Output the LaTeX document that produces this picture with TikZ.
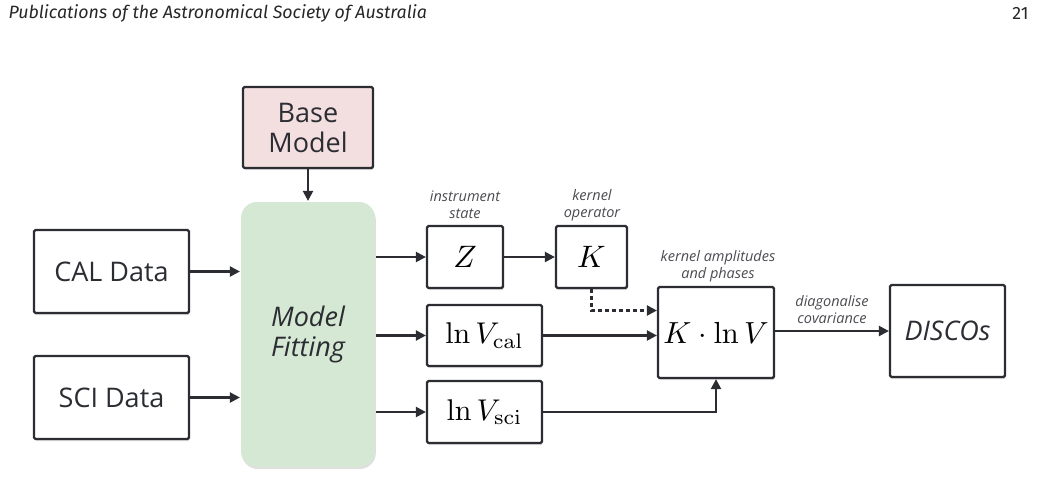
\documentclass[tikz,border=0pt]{standalone}
\usepackage{graphicx}
\usepackage[no-math]{fontspec}
\setmainfont{Open Sans}
\newfontfamily\headfont{Fira Sans}
\usetikzlibrary{arrows.meta,shadows}
\definecolor{edge}{HTML}{2B2D33}
\definecolor{pinkfill}{HTML}{F4DFE0}
\definecolor{greenfill}{HTML}{D5E8D4}
\newcommand{\bigmath}[2]{\scalebox{#1}{\fontsize{10}{12}\selectfont$#2$}}
\tikzset{
  box/.style={draw=edge, line width=2.2pt, fill=white, rounded corners=1.5pt, inner sep=0pt,
    drop shadow={opacity=0.25, shadow xshift=0.8pt, shadow yshift=-2pt}},
  conn/.style={draw=edge, line width=2.2pt, -{Triangle[length=10pt,width=10pt]}},
  big/.style={font=\fontsize{27}{30}\selectfont, align=center},
  bigi/.style={font=\fontsize{27}{30}\selectfont\itshape, align=center},
  lab/.style={font=\fontsize{14.5}{17}\selectfont\itshape, align=center, text=edge!85},
}
\begin{document}
\begin{tikzpicture}[x=1pt,y=-1pt]
\useasboundingbox (0,0) rectangle (1038,485);
% header
\node[anchor=west, font=\headfont\fontsize{17.8}{20}\selectfont\itshape, text=black!85] (hdr) at (5,13) {Publications of the Astronomical Society of Australia};
\node[anchor=east, font=\headfont\fontsize{17.8}{20}\selectfont, text=black!85] (pg) at (1032,13) {21};
% boxes
\node[box, fill=pinkfill, minimum width=130pt, minimum height=81pt, big, text=edge] (base) at (308,127.5) {Base\\Model};
\node[box, fill=greenfill, draw=none, rounded corners=16pt, minimum width=134pt, minimum height=265pt, bigi, text=edge] (fit) at (308,334.5) {Model\\Fitting};
\node[box, minimum width=155pt, minimum height=83pt, big, text=edge] (cal) at (111.5,271.5) {CAL Data};
\node[box, minimum width=155pt, minimum height=83pt, big, text=edge] (sci) at (111.5,397.5) {SCI Data};
\node[box, minimum width=76pt, minimum height=62pt] (Z) at (465,257) {\bigmath{3.1}{Z}};
\node[box, minimum width=71pt, minimum height=62pt] (K) at (591.5,257) {\bigmath{3.1}{K}};
\node[box, minimum width=115pt, minimum height=61pt] (lvc) at (484.5,335.5) {\bigmath{3.0}{\ln V_{\mathrm{cal}}}};
\node[box, minimum width=115pt, minimum height=62pt] (lvs) at (484.5,412) {\bigmath{3.0}{\ln V_{\mathrm{sci}}}};
\node[box, minimum width=116pt, minimum height=91pt] (KV) at (716,332.5) {\bigmath{3.05}{K\cdot\ln V}};
\node[box, minimum width=115pt, minimum height=92pt, bigi, text=edge] (disco) at (947.5,331) {DISCOs};
% labels
\node[lab] (l1) at (465,205) {instrument\\state};
\node[lab] (l2) at (592,205) {kernel\\operator};
\node[lab] (l3) at (718,266) {kernel amplitudes\\and phases};
\node[lab] (l4) at (832,310) {diagonalise\\covariance};
% connectors
\draw[conn] (base.south) -- (base.south |- fit.north);
\draw[conn] (cal.east) -- (cal.east -| fit.west);
\draw[conn] (sci.east) -- (sci.east -| fit.west);
\draw[conn] (fit.east |- Z.west) -- (Z.west);
\draw[conn] (fit.east |- lvc.west) -- (lvc.west);
\draw[conn] (fit.east |- lvs.west) -- (lvs.west);
\draw[conn] (Z.east) -- (K.west);
\draw[conn, dash pattern=on 4pt off 3pt] (K.south) |- ([yshift=22pt]KV.west);
\draw[conn] (lvc.east) -- (lvc.east -| KV.west);
\draw[conn] (lvs.east) -| (KV.south);
\draw[conn] (KV.east |- disco.west) -- (disco.west);
\end{tikzpicture}
\end{document}
